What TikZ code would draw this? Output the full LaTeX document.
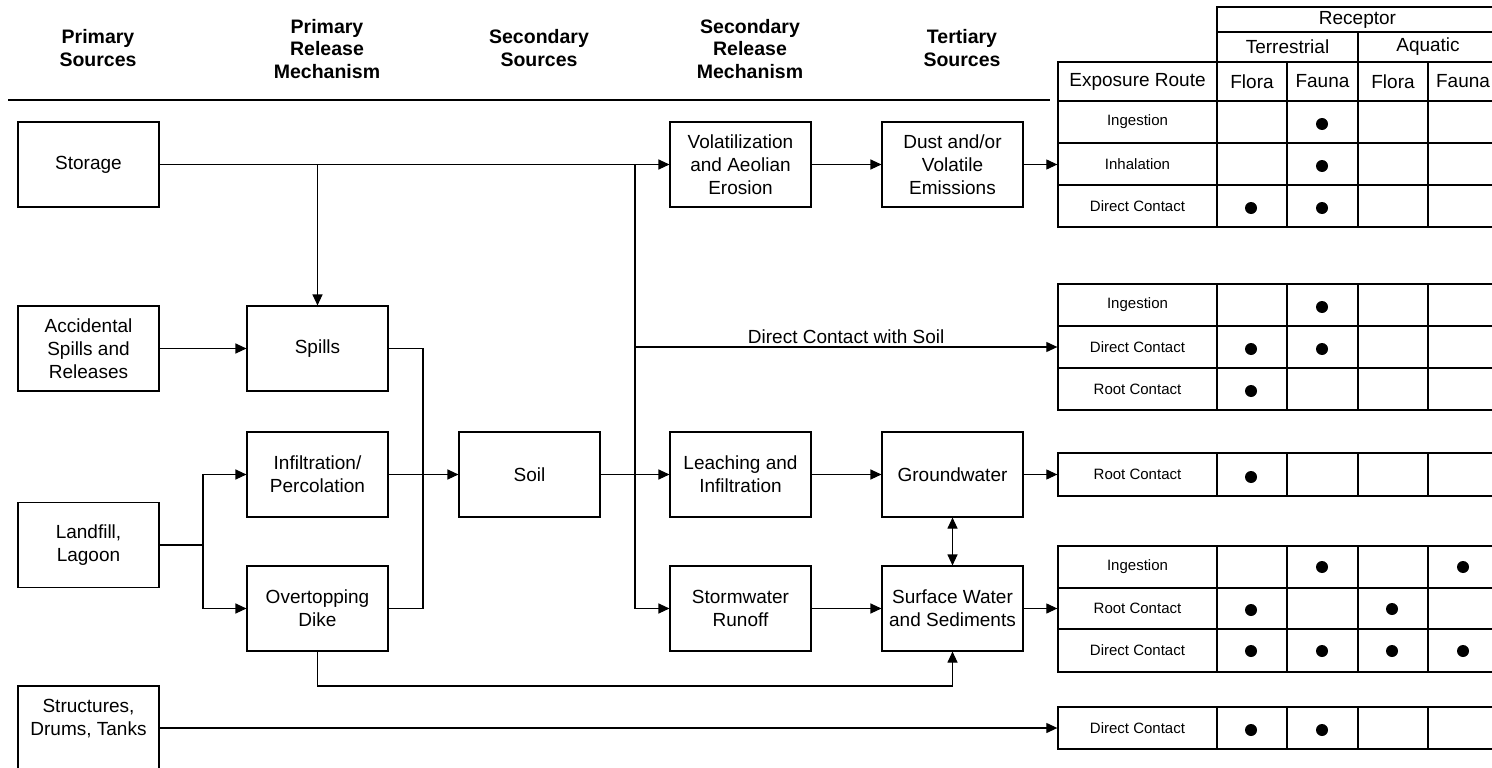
\documentclass[tikz,border=0pt]{standalone}
\usepackage{fontspec}
\setmainfont{Liberation Sans}
\usetikzlibrary{arrows.meta}
\begin{document}
\begin{tikzpicture}[x=1pt,y=-1pt,
  every node/.style={font=\fontsize{19}{23}\selectfont},
  box/.style={draw, line width=1.1pt, minimum width=141pt, minimum height=85pt, inner sep=0pt, align=center},
  hdr/.style={font=\fontsize{19.5}{22.5}\selectfont\bfseries, align=center},
  arr/.style={line width=1.1pt, -{Triangle[length=11pt,width=10pt]}},
  ln/.style={line width=1.1pt},
  dbl/.style={line width=1.1pt, {Triangle[length=11pt,width=10pt]}-{Triangle[length=11pt,width=10pt]}},
  grid/.style={line width=1.3pt},
  route/.style={draw, line width=1.3pt, minimum width=159pt, inner sep=0pt, font=\fontsize{15}{18}\selectfont},
  dot/.style={fill=black}
]
\useasboundingbox (0,0) rectangle (1492,768);

% headers
\node[hdr] (h1) at (98,48) {Primary\\Sources};
\node[hdr] (h2) at (327,49) {Primary\\Release\\Mechanism};
\node[hdr] (h3) at (539,48) {Secondary\\Sources};
\node[hdr] (h4) at (750,49) {Secondary\\Release\\Mechanism};
\node[hdr] (h5) at (962,48) {Tertiary\\Sources};
\draw[line width=1.8pt] (8,100) -- (1050,100);

% boxes
\node[box] (storage) at (88.5,164.5) {Storage};
\node[box] (accid) at (88.5,348.5) {Accidental\\Spills and\\Releases};
\node[box] (landfill) at (88.5,545) {Landfill,\\Lagoon};
\node[box] (struct) at (88.5,728.5) {};
\node[align=center] (structtxt) at (88.5,718.5) {Structures,\\Drums, Tanks};
\node[box] (spills) at (317.5,348.5) {Spills};
\node[box] (infil) at (317.5,474.5) {Infiltration/\\Percolation};
\node[box] (overtop) at (317.5,608.5) {Overtopping\\Dike};
\node[box] (soil) at (529.5,474.5) {Soil};
\node[box] (vol) at (740.5,164.5) {Volatilization\\and Aeolian\\Erosion};
\node[box] (leach) at (740.5,474.5) {Leaching and\\Infiltration};
\node[box] (storm) at (740.5,608.5) {Stormwater\\Runoff};
\node[box] (dust) at (952.5,164.5) {Dust and/or\\Volatile\\Emissions};
\node[box] (ground) at (952.5,474.5) {Groundwater};
\node[box] (surf) at (952.5,608.5) {Surface Water\\and Sediments};

% table 1 header
\draw[grid] (1217,7) rectangle (1498,62);
\draw[grid] (1217,32) -- (1498,32);
\draw[grid] (1358,32) -- (1358,62);
\node (rec) at (1357.5,20) {Receptor};
\node (ter) at (1287.5,47) {Terrestrial};
\node (aqu) at (1428,47) {Aquatic};
\node[route, font=\fontsize{19}{23}\selectfont, minimum height=39pt] (exp) at (1137.5,81.5) {Exposure Route};
\node (fl1) at (1252,81.5) {Flora};
\node (fa1) at (1322.5,81.5) {Fauna};
\node (fl2) at (1393,81.5) {Flora};
\node (fa2) at (1463,81.5) {Fauna};
\draw[grid] (1058,62) -- (1498,62);
\foreach \x in {1217,1287,1358,1428,1498} \draw[grid] (\x,62) -- (\x,227);

% table 1 body
\node[route, minimum height=42pt] (t1a) at (1137.5,122) {Ingestion};
\node[route, minimum height=42pt] (t1b) at (1137.5,164) {Inhalation};
\node[route, minimum height=42pt] (t1c) at (1137.5,206) {Direct Contact};
\foreach \y in {101,143,185,227} \draw[grid] (1058,\y) -- (1498,\y);
\foreach \p in {(1322,124),(1322,166),(1251,208),(1322,208)} \fill[dot] \p circle[radius=6pt];

% table 2
\node[route, minimum height=42pt] (t2a) at (1137.5,305) {Ingestion};
\node[route, minimum height=42pt] (t2b) at (1137.5,347) {Direct Contact};
\node[route, minimum height=42pt] (t2c) at (1137.5,389) {Root Contact};
\foreach \y in {284,326,368,410} \draw[grid] (1058,\y) -- (1498,\y);
\foreach \x in {1217,1287,1358,1428,1498} \draw[grid] (\x,284) -- (\x,410);
\foreach \p in {(1322,307),(1251,349),(1322,349),(1251,391)} \fill[dot] \p circle[radius=6pt];

% table 3
\node[route, minimum height=43pt] (t3a) at (1137.5,474.5) {Root Contact};
\foreach \y in {453,496} \draw[grid] (1058,\y) -- (1498,\y);
\foreach \x in {1217,1287,1358,1428,1498} \draw[grid] (\x,453) -- (\x,496);
\fill[dot] (1251,477) circle[radius=6pt];

% table 4
\node[route, minimum height=42pt] (t4a) at (1137.5,567) {Ingestion};
\node[route, minimum height=41pt] (t4b) at (1137.5,608.5) {Root Contact};
\node[route, minimum height=43pt] (t4c) at (1137.5,650.5) {Direct Contact};
\foreach \y in {546,588,629,672} \draw[grid] (1058,\y) -- (1498,\y);
\foreach \x in {1217,1287,1358,1428,1498} \draw[grid] (\x,546) -- (\x,672);
\foreach \p in {(1322,567),(1463,567),(1251,610),(1392,609),(1251,651),(1322,651),(1392,651),(1463,651)} \fill[dot] \p circle[radius=6pt];

% table 5
\node[route, minimum height=42pt] (t5a) at (1137.5,728) {Direct Contact};
\foreach \y in {707,749} \draw[grid] (1058,\y) -- (1498,\y);
\foreach \x in {1217,1287,1358,1428,1498} \draw[grid] (\x,707) -- (\x,749);
\foreach \p in {(1251,730),(1322,730)} \fill[dot] \p circle[radius=6pt];

% connectors
\draw[arr] (storage.east) -- (vol.west);
\draw[arr] (storage.east -| spills.north) -- (spills.north);
\draw[arr] (accid.east) -- (spills.west);
\coordinate (jA) at (423,474.5);
\draw[ln] (spills.east) -| (jA);
\draw[ln] (overtop.east) -| (jA);
\draw[arr] (infil.east) -- (soil.west);
\coordinate (jB) at (203,545);
\draw[ln] (landfill.east) -- (jB);
\draw[arr] (jB) |- (infil.west);
\draw[arr] (jB) |- (overtop.west);
\coordinate (jC) at (635,474.5);
\draw[arr] (soil.east) -- (leach.west);
\draw[ln] (jC |- vol.west) -- (jC |- storm.west);
\draw[arr] (jC |- storm.west) -- (storm.west);
\draw[arr] (jC |- t2b.west) -- (t2b.west) node[midway, above=3pt, inner sep=0pt] (dcs) {Direct Contact with Soil};
\draw[arr] (vol.east) -- (dust.west);
\draw[arr] (dust.east) -- (dust.east -| t1b.west);
\draw[arr] (leach.east) -- (ground.west);
\draw[arr] (ground.east) -- (ground.east -| t3a.west);
\draw[arr] (storm.east) -- (surf.west);
\draw[arr] (surf.east) -- (surf.east -| t4b.west);
\draw[dbl] (ground.south) -- (surf.north);
\coordinate (jD) at (0,686);
\draw[arr] (overtop.south) -- (overtop.south |- jD) -| (surf.south);
\draw[arr] (struct.east |- t5a.west) -- (t5a.west);
\end{tikzpicture}
\end{document}
